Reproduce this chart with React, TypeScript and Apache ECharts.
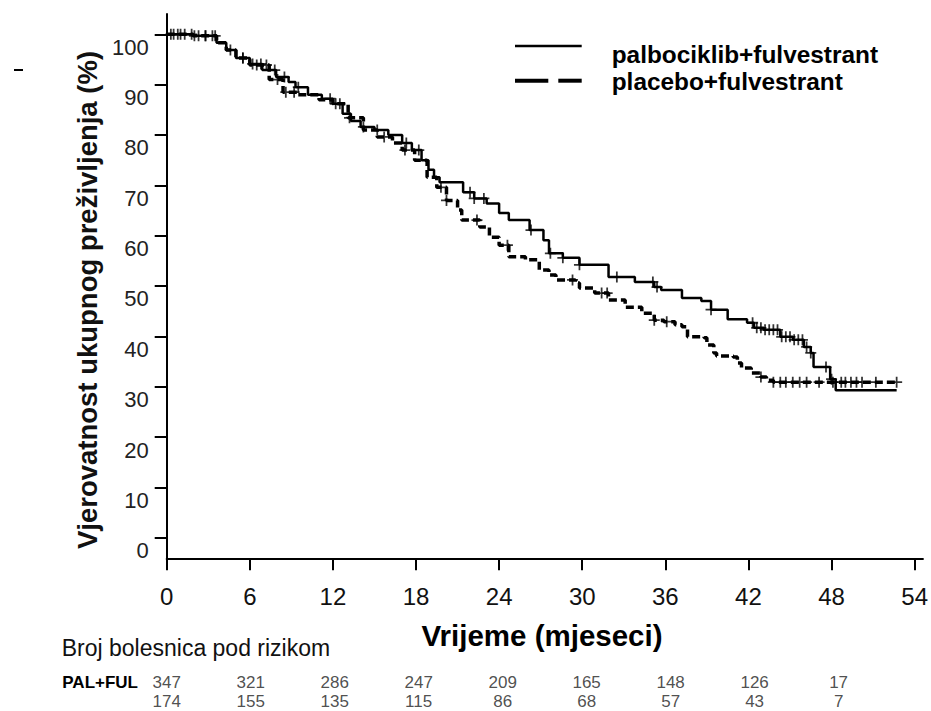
import React, { useEffect, useRef } from "react";
import * as echarts from "echarts";

// ---------- data ----------
const xTicks = [0, 6, 12, 18, 24, 30, 36, 42, 48, 54];
const yTicks = [0, 10, 20, 30, 40, 50, 60, 70, 80, 90, 100];

const riskMonths = [0, 6, 12, 18, 24, 30, 36, 42, 48];
const palRisk = [347, 321, 286, 247, 209, 165, 148, 126, 17];
const pcbRisk = [174, 155, 135, 115, 86, 68, 57, 43, 7];
const groupLabels = ["PAL+FUL", "PCB+FUL"];
const legendNames = ["palbociklib+fulvestrant", "placebo+fulvestrant"];

// Kaplan-Meier step points (month, survival %)
const palTime = [0, 1.9, 3.6, 4.3, 5.0, 6.0, 6.9, 7.9, 8.8, 9.3, 10.2, 11.2, 12.0, 12.7, 13.3, 14.0, 15.0, 16.0, 17.0, 17.7, 18.4, 18.9, 19.3, 19.7, 21.4, 22.2, 23.1, 24.0, 24.7, 26.2, 27.2, 27.6, 28.6, 29.8, 31.9, 33.8, 35.2, 35.7, 37.2, 38.6, 39.3, 40.5, 41.9, 42.4, 43.1, 44.3, 45.2, 46.0, 46.5, 46.7, 47.9, 48.3, 52.7];
const palSurv = [100, 99.7, 98.3, 96.9, 95.3, 94.1, 92.9, 91.5, 90.5, 89.5, 88.0, 87.2, 86.2, 84.2, 82.8, 81.6, 81.0, 80.0, 78.4, 77.0, 75.0, 73.1, 71.6, 70.6, 68.6, 67.4, 66.4, 64.5, 63.1, 61.1, 59.1, 56.5, 55.6, 54.2, 51.8, 50.8, 49.8, 49.2, 47.6, 47.0, 45.3, 43.4, 42.7, 41.7, 41.3, 39.9, 39.3, 37.9, 36.7, 33.9, 31.5, 29.3, 29.3];

const pcbTime = [0, 1.9, 3.6, 4.3, 5.0, 6.0, 7.4, 8.4, 9.5, 11.0, 12.0, 13.1, 14.2, 15.2, 16.3, 17.0, 17.9, 18.8, 19.5, 20.2, 21.0, 21.3, 22.6, 23.3, 24.0, 24.7, 25.9, 26.9, 27.6, 28.1, 29.5, 29.8, 30.9, 31.9, 33.1, 34.3, 35.2, 35.9, 36.7, 37.2, 37.6, 38.8, 39.0, 39.5, 39.7, 40.9, 41.2, 41.5, 42.2, 42.9, 43.3, 43.8, 52.7];
const pcbSurv = [100, 99.7, 98.3, 96.9, 95.3, 93.9, 91.0, 88.5, 88.0, 87.0, 86.2, 83.4, 81.0, 79.6, 78.4, 77.0, 75.0, 71.6, 69.6, 67.0, 65.1, 63.1, 61.7, 59.7, 58.1, 55.8, 55.2, 53.2, 52.2, 51.2, 50.6, 49.6, 48.6, 47.2, 45.8, 44.6, 43.2, 42.9, 42.3, 41.9, 39.9, 39.7, 38.3, 36.7, 36.1, 35.9, 34.7, 33.7, 32.7, 31.9, 31.3, 30.9, 30.9];

// censoring times (months)
const palCensor = [0.3, 0.8, 1.3, 1.8, 2.3, 2.8, 3.3, 4.6, 5.5, 6.2, 6.8, 7.8, 8.5, 9.5, 11.8, 12.5, 14.2, 15.2, 17.3, 18.2, 21.9, 22.2, 22.9, 26.3, 27.7, 28.6, 29.8, 32.5, 35.1, 35.4, 39.3, 42.3, 42.6, 42.9, 43.2, 43.5, 43.8, 44.1, 44.4, 44.7, 45.0, 45.3, 45.6, 45.9, 46.2, 46.5, 47.6, 48.0];
const pcbCensor = [0.5, 1.0, 2.0, 2.8, 3.5, 5.5, 6.5, 7.2, 8.0, 8.6, 9.2, 12.2, 13.2, 15.7, 17.2, 19.8, 20.2, 22.4, 24.6, 29.3, 31.4, 31.8, 35.2, 36.1, 42.9, 43.8, 44.3, 44.7, 45.2, 45.7, 46.2, 47.1, 48.1, 48.7, 49.0, 49.4, 49.8, 50.2, 51.2, 52.7];

// ---------- helpers ----------
function survAt(times: number[], surv: number[], t: number): number {
  let v = surv[0];
  for (let i = 0; i < times.length; i++) {
    if (times[i] <= t) v = surv[i];
    else break;
  }
  return v;
}

const CROSS = "path://M4.2,0h1.6v4.2h4.2v1.6h-4.2v4.2h-1.6v-4.2h-4.2v-1.6h4.2z";
const FONT = "Liberation Sans, Arial, sans-serif";

export default function App() {
  const ref = useRef<HTMLDivElement>(null);

  useEffect(() => {
    if (!ref.current) return;
    const chart = echarts.init(ref.current, undefined, { renderer: "svg" });

    const option: any = {
      animation: false,
      backgroundColor: "#ffffff",
      textStyle: { fontFamily: FONT },
      grid: [
        { left: 166.7, top: 14, right: 0, bottom: 152.7 },
        { left: 166.7, top: 672.5, right: 0, height: 38 },
      ],
      xAxis: [
        {
          type: "value",
          gridIndex: 0,
          min: 0,
          max: 54.6,
          axisLine: { show: true, onZero: false, lineStyle: { color: "#000", width: 2 } },
          axisTick: { show: true, customValues: xTicks, length: 12, lineStyle: { color: "#000", width: 2 } },
          axisLabel: { show: true, customValues: xTicks, margin: 26, fontSize: 24, color: "#111", fontFamily: FONT },
          splitLine: { show: false },
        },
        {
          type: "value",
          gridIndex: 1,
          min: 0,
          max: 54.6,
          show: false,
        },
      ],
      yAxis: [
        {
          type: "value",
          gridIndex: 0,
          min: -4.09,
          max: 104.03,
          axisLine: { show: true, onZero: false, lineStyle: { color: "#000", width: 2 } },
          axisTick: { show: true, customValues: yTicks, length: 12, lineStyle: { color: "#000", width: 2 } },
          axisLabel: {
            show: true,
            customValues: yTicks,
            margin: 18,
            fontSize: 22,
            color: "#222",
            fontFamily: FONT,
            verticalAlign: "top",
            lineHeight: 26,
          },
          splitLine: { show: false },
        },
        {
          type: "category",
          gridIndex: 1,
          data: groupLabels,
          inverse: true,
          axisLine: { show: false },
          axisTick: { show: false },
          splitLine: { show: false },
          axisLabel: { show: true, margin: 28.7, fontSize: 17, lineHeight: 16, fontWeight: "bold", color: "#000", fontFamily: FONT },
        },
      ],
      series: [
        {
          name: legendNames[0],
          type: "line",
          step: "end",
          xAxisIndex: 0,
          yAxisIndex: 0,
          symbol: "none",
          data: palTime.map((t, i) => [t, palSurv[i]]),
          lineStyle: { color: "#000", width: 2.5 },
          z: 3,
        },
        {
          name: legendNames[1],
          type: "line",
          step: "end",
          xAxisIndex: 0,
          yAxisIndex: 0,
          symbol: "none",
          data: pcbTime.map((t, i) => [t, pcbSurv[i]]),
          lineStyle: { color: "#000", width: 3.5, type: [8, 4] },
          z: 3,
        },
        {
          type: "scatter",
          xAxisIndex: 0,
          yAxisIndex: 0,
          symbol: CROSS,
          symbolSize: 11,
          itemStyle: { color: "#000" },
          data: palCensor.map((t) => [t, survAt(palTime, palSurv, t)]),
          z: 4,
        },
        {
          type: "scatter",
          xAxisIndex: 0,
          yAxisIndex: 0,
          symbol: CROSS,
          symbolSize: 11,
          itemStyle: { color: "#000" },
          data: pcbCensor.map((t) => [t, survAt(pcbTime, pcbSurv, t)]),
          z: 4,
        },
        {
          type: "scatter",
          xAxisIndex: 1,
          yAxisIndex: 1,
          symbolSize: 1,
          itemStyle: { color: "rgba(0,0,0,0)" },
          data: [
            ...riskMonths.map((m, i) => [m, groupLabels[0], palRisk[i]]),
            ...riskMonths.map((m, i) => [m, groupLabels[1], pcbRisk[i]]),
          ],
          label: {
            show: true,
            position: "inside",
            fontSize: 17,
            lineHeight: 16,
            color: "#222",
            fontFamily: FONT,
            formatter: (p: any) => String(p.value[2]),
          },
        },
      ],
      graphic: [
        // stray mark at top-left
        { type: "line", shape: { x1: 14, y1: 70, x2: 23, y2: 70 }, style: { stroke: "#000", lineWidth: 2 } },
        // y-axis title
        {
          type: "text",
          x: 87.5,
          y: 300,
          rotation: Math.PI / 2,
          style: {
            text: "Vjerovatnost ukupnog preživljenja (%)",
            fontSize: 27.5,
            fontWeight: "bold",
            fontFamily: FONT,
            fill: "#111",
            align: "center",
            verticalAlign: "middle",
          },
        },
        // x-axis title
        {
          type: "text",
          x: 542,
          y: 635,
          style: {
            text: "Vrijeme (mjeseci)",
            fontSize: 29.5,
            fontWeight: "bold",
            fontFamily: FONT,
            fill: "#000",
            align: "center",
            verticalAlign: "middle",
          },
        },
        // risk table heading
        {
          type: "text",
          x: 61.7,
          y: 647.7,
          style: {
            text: "Broj bolesnica pod rizikom",
            fontSize: 23,
            fontFamily: FONT,
            fill: "#111",
            align: "left",
            verticalAlign: "middle",
          },
        },
        // legend
        { type: "line", shape: { x1: 515, y1: 46, x2: 581.7, y2: 46 }, style: { stroke: "#000", lineWidth: 2.7 } },
        { type: "line", shape: { x1: 515, y1: 80.7, x2: 548.3, y2: 80.7 }, style: { stroke: "#000", lineWidth: 4 } },
        { type: "line", shape: { x1: 558.3, y1: 80.7, x2: 581.7, y2: 80.7 }, style: { stroke: "#000", lineWidth: 4 } },
        {
          type: "text",
          x: 611.7,
          y: 54.4,
          style: { text: legendNames[0], fontSize: 24.4, fontWeight: "bold", fontFamily: FONT, fill: "#000", align: "left", verticalAlign: "middle" },
        },
        {
          type: "text",
          x: 611.7,
          y: 81.7,
          style: { text: legendNames[1], fontSize: 24.4, fontWeight: "bold", fontFamily: FONT, fill: "#000", align: "left", verticalAlign: "middle" },
        },
      ],
    };

    chart.setOption(option);
    return () => chart.dispose();
  }, []);

  return (
    <div
      ref={ref}
      style={{ position: "absolute", left: 0, top: 0, width: 931, height: 711, background: "#fff" }}
    />
  );
}
